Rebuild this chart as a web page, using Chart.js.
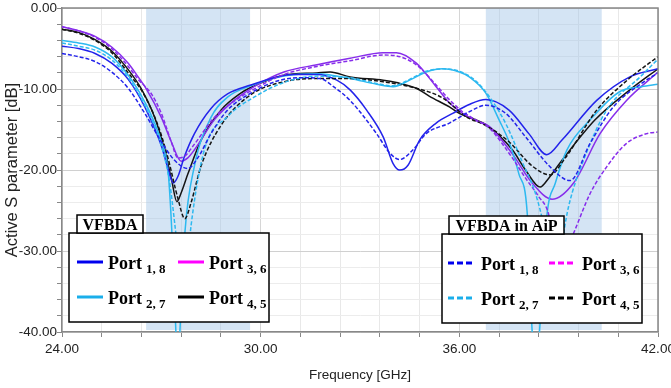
<!DOCTYPE html>
<html>
 <head>
  <meta charset="utf-8">
  <title>Active S parameter</title>
  <style>
  html, body {
   margin: 0;
   padding: 0;
   background: #fff;
  }
  </style>
 </head>
 <body>
 <canvas id="chart" width="671" height="388"></canvas>
 <script src="https://cdn.jsdelivr.net/npm/chart.js@4.4.1/dist/chart.umd.min.js"></script>
 <script>
 // Frequency grid marks (GHz) and highlighted bands
 const xTicks = [24, 25.2, 26.4, 27.6, 28.8, 30, 31.2, 32.4, 33.6, 34.8, 36, 37.2, 38.4, 39.6, 40.8, 42];
 const bands = [[26.54, 29.68], [36.8, 40.3]];

 // VFBDA (solid) - [frequency GHz, dB]
 const port18 = [[24,-4.7],[24.5,-5.0],[25,-5.6],[25.5,-6.8],[26,-8.8],[26.5,-12.2],[27,-17.0],[27.2,-19.8],[27.36,-21.6],[27.5,-20.8],[27.7,-18.3],[28,-15.5],[28.5,-12.4],[29,-10.6],[29.7,-9.5],[30.5,-8.5],[31,-8.2],[31.7,-8.2],[32.3,-8.9],[32.7,-10.1],[33.2,-12.6],[33.7,-15.9],[34.0,-19.2],[34.2,-20.0],[34.45,-19.4],[34.8,-16.3],[35.3,-14.2],[35.8,-13.0],[36.3,-11.9],[36.8,-11.3],[37.5,-12.6],[38.1,-15.5],[38.64,-18.1],[39.1,-16.3],[40.15,-11.4],[41.15,-8.5],[42,-7.5]];
 const port27 = [[24,-4.0],[24.5,-4.3],[25,-4.8],[25.5,-6.0],[26,-8.3],[26.5,-11.6],[27,-16.5],[27.2,-20.0],[27.32,-27.8],[27.44,-40],[27.5,-45],[27.56,-40],[27.71,-27.8],[28,-19.5],[28.5,-13.5],[29,-11.0],[29.7,-9.6],[30.7,-8.4],[31.7,-8.1],[32.7,-8.7],[33.5,-9.4],[34.0,-9.7],[34.5,-8.9],[35.0,-7.9],[35.5,-7.5],[36.0,-7.9],[36.3,-8.5],[36.8,-10.5],[37.2,-13.8],[37.5,-16.5],[37.8,-20.5],[38.05,-25.3],[38.2,-40],[38.3,-45],[38.42,-40],[38.64,-25.8],[38.9,-21.6],[39.25,-17.5],[39.95,-13.8],[40.85,-10.3],[41.5,-9.7],[42,-9.4]];
 const port36 = [[24,-2.3],[24.5,-2.8],[25,-3.5],[25.5,-4.8],[26,-6.8],[26.3,-8.5],[26.55,-10.0],[27,-13.5],[27.3,-16.5],[27.6,-18.9],[27.8,-18.5],[28,-17.5],[28.6,-13.8],[29.2,-11.4],[29.8,-9.7],[30.7,-7.9],[31.7,-7.0],[32.7,-6.2],[33.7,-5.5],[34.1,-5.5],[34.7,-6.8],[35.3,-9.7],[35.7,-11.7],[36.1,-13.0],[36.5,-13.9],[36.9,-14.6],[37.6,-18.0],[38.2,-21.6],[38.8,-23.6],[39.45,-21.6],[40.25,-15.5],[41.05,-11.4],[42,-7.9]];
 const port45 = [[24,-2.6],[24.5,-3.0],[25,-3.9],[25.5,-5.3],[26,-7.6],[26.4,-10.0],[26.8,-13.5],[27.1,-17.5],[27.3,-21.0],[27.47,-23.9],[27.6,-22.8],[27.8,-20.5],[28.2,-16.3],[28.8,-12.6],[29.4,-10.5],[29.7,-9.8],[30.7,-8.3],[31.7,-8.0],[32.1,-7.9],[32.7,-8.5],[33.7,-8.9],[34.1,-9.2],[34.7,-9.9],[35.1,-10.9],[35.7,-12.2],[36.0,-13.0],[36.8,-14.4],[37.6,-17.5],[38.0,-20.0],[38.44,-22.1],[38.7,-21.0],[39.1,-18.8],[40.1,-13.8],[41.15,-10.1],[42,-7.5]];

 // VFBDA in AiP (dashed) - [frequency GHz, dB]
 const aip18 = [[24,-5.6],[24.5,-6.0],[25,-6.6],[25.5,-7.9],[26,-9.9],[26.5,-13.0],[27,-16.5],[27.4,-18.8],[27.8,-19.8],[28.1,-18.5],[28.5,-15.5],[29,-12.6],[29.7,-10.5],[30.5,-9.0],[31.2,-8.6],[31.8,-8.7],[32.2,-9.7],[32.7,-11.4],[33.5,-15.5],[33.9,-17.9],[34.2,-18.7],[34.6,-17.5],[35.0,-15.5],[35.7,-14.2],[36.3,-12.8],[36.8,-12.0],[37.4,-13.0],[38.0,-15.9],[38.74,-19.6],[39.34,-21.3],[39.95,-16.7],[40.65,-12.2],[41.5,-9.3],[42,-8.0]];
 const aip27 = [[24,-4.3],[24.5,-4.7],[25,-5.2],[25.5,-6.4],[26,-8.6],[26.5,-12.0],[27,-17.0],[27.25,-21.5],[27.41,-26.8],[27.55,-32],[27.68,-36],[27.8,-31],[27.9,-26.8],[28.3,-17.5],[29,-13.4],[29.8,-11.0],[30.7,-9.2],[31.7,-8.4],[32.7,-8.6],[33.5,-9.3],[34.0,-9.6],[34.5,-8.8],[35.0,-7.8],[35.5,-7.5],[36.0,-7.8],[36.5,-9.0],[37.0,-11.5],[37.43,-14.5],[37.9,-19.0],[38.3,-22.9],[38.6,-27.8],[38.9,-35],[39.15,-27.8],[39.3,-24.5],[39.75,-18.8],[40.45,-12.6],[41.46,-8.5],[42,-6.3]];
 const aip36 = [[24,-2.3],[24.5,-2.8],[25,-3.6],[25.5,-5.0],[26,-7.2],[26.3,-8.8],[26.7,-10.6],[27,-13.0],[27.3,-16.5],[27.5,-18.5],[27.7,-18.3],[28,-16.8],[28.6,-13.5],[29.2,-11.5],[29.8,-10.0],[30.7,-8.2],[31.7,-7.2],[32.7,-6.5],[33.7,-5.8],[34.1,-5.9],[34.7,-7.0],[35.3,-9.5],[35.7,-11.3],[36.1,-12.8],[36.5,-13.8],[36.9,-14.8],[37.6,-18.5],[38.0,-21.0],[38.4,-23.3],[38.7,-25.5],[38.8,-27.8],[39.1,-31],[39.45,-27.8],[39.95,-22.9],[40.45,-19.6],[41.05,-16.7],[41.66,-15.5],[42,-15.3]];
 const aip45 = [[24,-2.6],[24.5,-3.1],[25,-4.0],[25.5,-5.5],[26,-8.0],[26.45,-10.5],[26.9,-14.5],[27.2,-18.5],[27.5,-23.5],[27.71,-26.0],[27.9,-24.0],[28.2,-19.5],[28.8,-14.5],[29.7,-10.7],[30.7,-9.1],[31.7,-8.7],[32.7,-8.7],[33.7,-9.1],[34.7,-9.9],[35.5,-11.1],[36.2,-13.4],[36.8,-14.5],[37.5,-16.5],[38.2,-19.5],[38.74,-20.6],[39.2,-18.5],[40.15,-12.6],[41.1,-8.8],[42,-6.0]];

 const lineColors = ['rgb(35,35,235)', 'rgb(45,185,240)', 'rgb(135,45,235)', 'rgb(20,20,20)'];
 const legendColors = ['#0000ee', '#1aaeea', '#ff00ff', '#000000'];
 const portSubs = ['1, 8', '2, 7', '3, 6', '4, 5'];

 const solidSets = [port18, port27, port36, port45];
 const dashedSets = [aip18, aip27, aip36, aip45];

 function makeSet(pts, i, dashed) {
   return {
     label: 'Port ' + portSubs[i] + (dashed ? ' AiP' : ''),
     data: pts.map(p => ({x: p[0], y: p[1]})),
     borderColor: lineColors[i],
     borderWidth: 1.5,
     borderDash: dashed ? [4, 2] : [],
     pointRadius: 0,
     cubicInterpolationMode: 'monotone',
     fill: false
   };
 }

 const datasets = [];
 dashedSets.forEach((s, i) => datasets.push(makeSet(s, i, true)));
 solidSets.forEach((s, i) => datasets.push(makeSet(s, i, false)));

 const axisFont = { family: '"Liberation Sans", Arial', size: 13.5 };

 // shaded frequency bands behind the curves
 const bandPlugin = {
   id: 'bands',
   beforeDatasetsDraw(chart) {
     const {ctx, chartArea, scales} = chart;
     ctx.save();
     ctx.fillStyle = 'rgba(160,196,230,0.45)';
     bands.forEach(b => {
       const x0 = scales.x.getPixelForValue(b[0]);
       const x1 = scales.x.getPixelForValue(b[1]);
       ctx.fillRect(x0, chartArea.top, x1 - x0, chartArea.bottom - chartArea.top - 2);
     });
     ctx.restore();
   }
 };

 function drawBox(ctx, box, tab, title, colX, rowY, dashed) {
   ctx.save();
   ctx.fillStyle = '#fff';
   ctx.strokeStyle = '#000';
   ctx.lineWidth = 1.5;
   ctx.fillRect(box[0], box[1], box[2], box[3]);
   ctx.strokeRect(box[0], box[1], box[2], box[3]);
   ctx.fillRect(tab[0], tab[1], tab[2], tab[3]);
   ctx.strokeRect(tab[0], tab[1], tab[2], tab[3]);
   ctx.fillStyle = '#000';
   ctx.font = 'bold 16px "Liberation Serif"';
   ctx.textAlign = 'center';
   ctx.textBaseline = 'alphabetic';
   ctx.fillText(title, tab[0] + tab[2] / 2, tab[1] + tab[3] - 3);
   ctx.textAlign = 'left';
   for (let i = 0; i < 4; i++) {
     const col = i < 2 ? 0 : 1;
     const row = i % 2;
     const x = colX[col];
     const y = rowY[row];
     ctx.strokeStyle = legendColors[i];
     ctx.lineWidth = 3;
     ctx.setLineDash(dashed ? [6, 3] : []);
     ctx.beginPath();
     ctx.moveTo(x, y);
     ctx.lineTo(x + 26, y);
     ctx.stroke();
     ctx.setLineDash([]);
     ctx.fillStyle = '#000';
     ctx.font = 'bold 18px "Liberation Serif"';
     const tx = x + (dashed ? 33 : 31);
     ctx.fillText('Port', tx, y + 7);
     const w = ctx.measureText('Port').width;
     ctx.font = 'bold 13px "Liberation Serif"';
     ctx.fillText(portSubs[i], tx + w + 4, y + 11);
   }
   ctx.restore();
 }

 // two legend boxes and the plot frame
 const legendPlugin = {
   id: 'boxes',
   afterDraw(chart) {
     const {ctx, chartArea} = chart;
     ctx.save();
     ctx.strokeStyle = '#888';
     ctx.lineWidth = 1.5;
     ctx.beginPath();
     ctx.moveTo(chartArea.left, chartArea.top);
     ctx.lineTo(chartArea.right, chartArea.top);
     ctx.lineTo(chartArea.right, chartArea.bottom);
     ctx.stroke();
     ctx.restore();
     drawBox(ctx, [69, 233, 200, 89], [77, 215, 66, 18], 'VFBDA', [77, 178], [262, 297], false);
     drawBox(ctx, [442, 234, 200, 89], [449, 216, 115, 18], 'VFBDA in AiP', [448, 549], [263, 298], true);
   }
 };

 new Chart(document.getElementById('chart').getContext('2d'), {
   type: 'line',
   data: { datasets: datasets },
   plugins: [bandPlugin, legendPlugin],
   options: {
     responsive: false,
     animation: false,
     devicePixelRatio: 1,
     layout: { padding: { top: 8, right: 13, left: 0, bottom: 0 } },
     plugins: { legend: { display: false }, tooltip: { enabled: false } },
     scales: {
       x: {
         type: 'linear',
         min: 24,
         max: 42,
         afterBuildTicks: axis => { axis.ticks = xTicks.map(v => ({value: v})); },
         afterFit: axis => { axis.height = 56; axis.paddingRight = 0; axis.paddingLeft = 0; },
         ticks: {
           autoSkip: false,
           maxRotation: 0,
           padding: 4,
           color: '#222',
           font: axisFont,
           callback: v => Math.abs(v / 6 - Math.round(v / 6)) < 1e-6 ? v.toFixed(2) : ''
         },
         grid: {
           color: ctx => Math.abs(ctx.tick.value / 6 - Math.round(ctx.tick.value / 6)) < 1e-6 ? '#d6d6d6' : '#e8e8e8',
           tickColor: '#888',
           tickLength: 5
         },
         border: { color: '#888', width: 1.5 },
         title: {
           display: true,
           text: 'Frequency [GHz]',
           color: '#222',
           font: axisFont,
           padding: { top: 0, bottom: 5 }
         }
       },
       y: {
         type: 'linear',
         min: -40,
         max: 0,
         afterFit: axis => { axis.width = 62; },
         ticks: {
           stepSize: 2,
           autoSkip: false,
           padding: 0,
           color: '#222',
           font: axisFont,
           callback: v => v % 10 === 0 ? v.toFixed(2) : ''
         },
         grid: {
           color: ctx => ctx.tick.value % 10 === 0 ? '#d0d0d0' : '#ececec',
           tickColor: '#888',
           tickLength: 5
         },
         border: { color: '#888', width: 1.5 },
         title: {
           display: true,
           text: 'Active S parameter [dB]',
           color: '#222',
           font: { family: '"Liberation Sans", Arial', size: 16.5 },
           padding: { top: 3, bottom: 2 }
         }
       }
     }
   }
 });
 </script>
 </body>
</html>
